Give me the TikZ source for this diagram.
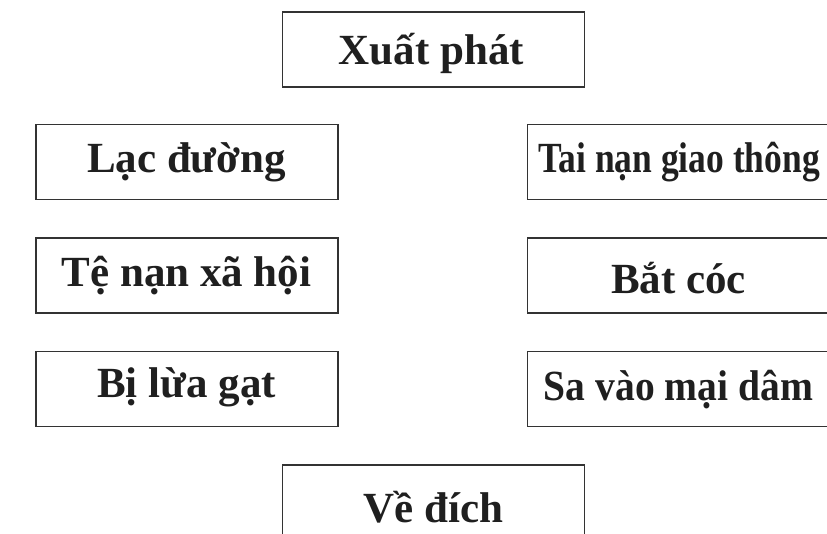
\documentclass[tikz,border=0pt]{standalone}
\usepackage{fontspec}
\setmainfont{Liberation Serif}
\usepackage{graphicx}
\begin{document}
\begin{tikzpicture}[x=1pt,y=-1pt,
  box/.style={draw=black!80, line width=1.3pt, rectangle, minimum width=302pt, minimum height=75pt, inner sep=0pt},
  lbl/.style={anchor=base, inner sep=0pt, font=\fontsize{43}{43}\selectfont\bfseries, text=black!88}]
\useasboundingbox (0,0) rectangle (827,534);
\node[box] (start) at (433.5,49.5) {};
\node[box] (lac) at (187,162) {};
\node[box] (tai) at (678.5,162) {};
\node[box] (te) at (187,275.5) {};
\node[box] (bat) at (678.5,275.5) {};
\node[box] (bi) at (187,389) {};
\node[box] (sa) at (678.5,389) {};
\node[box, minimum height=140pt] (ve) at (433.5,535) {};
\node[lbl] (tstart) at (431.5,65) {Xuất phát};
\node[lbl] (tlac) at (186.5,173) {Lạc đường};
\node[lbl] (ttai) at (679,173) {\scalebox{0.825}[1]{Tai nạn giao thông}};
\node[lbl] (tte) at (186.5,287) {Tệ nạn xã hội};
\node[lbl] (tbat) at (678.5,294) {Bắt cóc};
\node[lbl] (tbi) at (186.5,397) {Bị lừa gạt};
\node[lbl] (tsa) at (678.5,400) {\scalebox{0.92}[1]{Sa vào mại dâm}};
\node[lbl] (tve) at (433.5,522) {Về đích};
\end{tikzpicture}
\end{document}
